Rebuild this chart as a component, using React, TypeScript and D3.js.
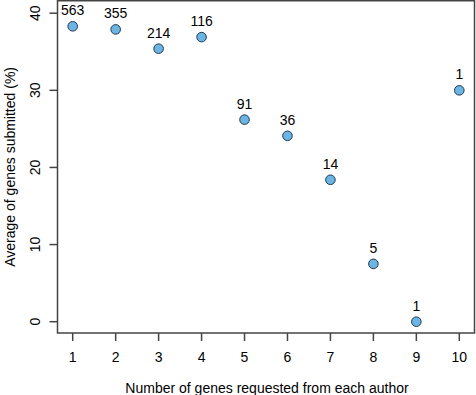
import React, { useEffect, useRef } from 'react';
import * as d3 from 'd3';

const genesRequested = [1, 2, 3, 4, 5, 6, 7, 8, 9, 10];
const avgSubmitted = [38.3, 37.9, 35.4, 36.9, 26.2, 24.1, 18.4, 7.5, 0.0, 30.0];
const authorCounts = [563, 355, 214, 116, 91, 36, 14, 5, 1, 1];
const xTicks = [1, 2, 3, 4, 5, 6, 7, 8, 9, 10];
const yTicks = [0, 10, 20, 30, 40];

const App = () => {
    const ref = useRef<SVGSVGElement>(null);

    useEffect(() => {
        if (!ref.current) return;
        const svg = d3.select(ref.current);
        svg.selectAll('*').remove();

        const width = 476, height = 395;
        const box = { left: 57.5, right: 474.5, top: 0.75, bottom: 333 };
        const font = 'Liberation Sans, Arial, Helvetica, sans-serif';
        const fs = 14;
        const axisColor = '#444';

        const x = d3.scaleLinear().domain([1, 10]).range([72.7, 459.3]);
        const y = d3.scaleLinear().domain([0, 40]).range([321.7, 13.2]);

        svg.attr('width', width).attr('height', height);

        // plot box
        svg.append('rect')
            .attr('x', box.left).attr('y', box.top)
            .attr('width', box.right - box.left).attr('height', box.bottom - box.top)
            .attr('fill', 'none').attr('stroke', axisColor).attr('stroke-width', 1.5);

        // x axis
        const xg = svg.append('g');
        xg.selectAll('line').data(xTicks).join('line')
            .attr('x1', d => x(d)).attr('x2', d => x(d))
            .attr('y1', box.bottom).attr('y2', box.bottom + 8)
            .attr('stroke', axisColor).attr('stroke-width', 1.5);
        xg.selectAll('text').data(xTicks).join('text')
            .attr('x', d => x(d)).attr('y', 362)
            .attr('text-anchor', 'middle')
            .attr('font-family', font).attr('font-size', fs)
            .text(d => d);

        // y axis
        const yg = svg.append('g');
        yg.selectAll('line').data(yTicks).join('line')
            .attr('x1', box.left - 8).attr('x2', box.left)
            .attr('y1', d => y(d)).attr('y2', d => y(d))
            .attr('stroke', axisColor).attr('stroke-width', 1.5);
        yg.selectAll('text').data(yTicks).join('text')
            .attr('transform', d => `translate(40,${y(d)}) rotate(-90)`)
            .attr('text-anchor', 'middle')
            .attr('font-family', font).attr('font-size', fs)
            .text(d => d);

        // axis titles
        svg.append('text')
            .attr('x', (box.left + box.right) / 2 + 1).attr('y', 393)
            .attr('text-anchor', 'middle')
            .attr('font-family', font).attr('font-size', fs)
            .text('Number of genes requested from each author');
        svg.append('text')
            .attr('transform', `translate(15,${(box.top + box.bottom) / 2}) rotate(-90)`)
            .attr('text-anchor', 'middle')
            .attr('font-family', font).attr('font-size', fs)
            .text('Average of genes submitted (%)');

        // points
        const data = genesRequested.map((g, i) => ({ g, v: avgSubmitted[i], n: authorCounts[i] }));
        svg.append('g').selectAll('circle').data(data).join('circle')
            .attr('cx', d => x(d.g)).attr('cy', d => y(d.v))
            .attr('r', 4.8)
            .attr('fill', '#6cb4e4')
            .attr('stroke', '#1f3a4f').attr('stroke-width', 1);

        svg.append('g').selectAll('text').data(data).join('text')
            .attr('x', d => x(d.g)).attr('y', d => y(d.v) - 11)
            .attr('text-anchor', 'middle')
            .attr('font-family', font).attr('font-size', fs)
            .text(d => d.n);
    }, []);

    return (
        <div style={{ position: 'absolute', left: 0, top: 0 }}>
            <svg ref={ref} style={{ display: 'block' }} />
        </div>
    );
};

export default App;
